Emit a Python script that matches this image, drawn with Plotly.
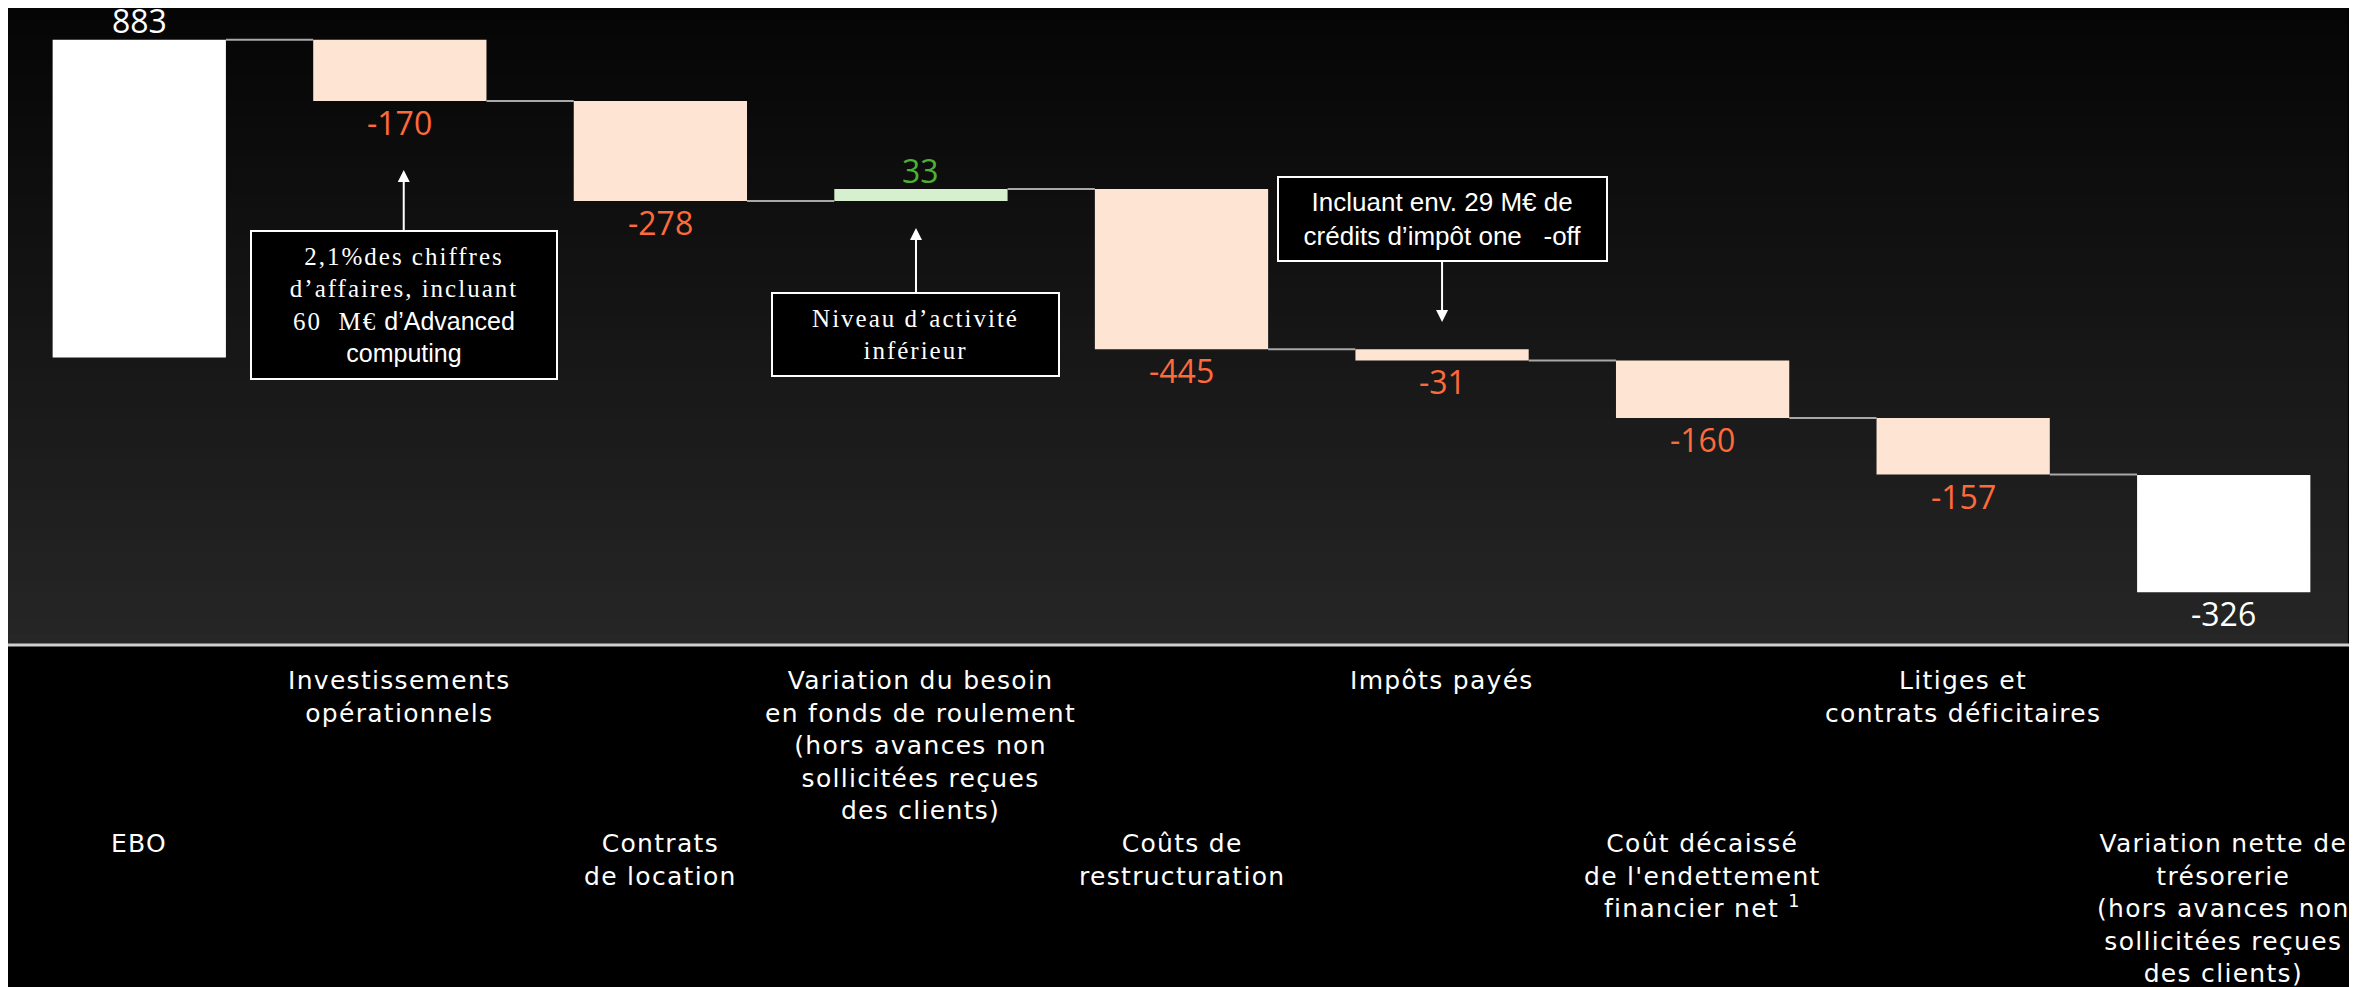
import plotly.graph_objects as go

# ---------------- data ----------------
categories = [
    "EBO",
    "Investissements|opérationnels",
    "Contrats|de location",
    "Variation du besoin|en fonds de roulement|(hors avances non|sollicitées reçues|des clients)",
    "Coûts de|restructuration",
    "Impôts payés",
    "Coût décaissé|de l'endettement|financier net <sup>1</sup>",
    "Litiges et|contrats déficitaires",
    "Variation nette de|trésorerie|(hors avances non|sollicitées reçues|des clients)",
]
values = [883, -170, -278, 33, -445, -31, -160, -157, -326]
measures = ["absolute", "relative", "relative", "relative", "relative",
            "relative", "relative", "relative", "total"]
value_labels = ["883", "-170", "-278", "33", "-445", "-31", "-160", "-157", "-326"]

note_texts = [
    "2,1%des chiffres|d’affaires, incluant|60  M€| d’Advanced|computing",
    "Niveau d’activité|inférieur",
    "Incluant env. 29 M€ de|crédits d’impôt one\u00a0\u00a0\u00a0-off",
]

# ---------------- styles ----------------
WHITE = "#FFFFFF"
PEACH = "#FDE4D3"
LGREEN = "#D6F0CF"
ORANGE = "#FF6A3A"
GREEN = "#4DB035"
CAT_FONT = "DejaVu Sans"
VAL_FONT = "Open Sans"
BAR_W = 0.665

# ---------------- waterfall geometry ----------------
bases, lengths, bar_colors, txt_colors, levels = [], [], [], [], []
running = 0
for v, m in zip(values, measures):
    if m == "absolute":
        bases.append(0); lengths.append(v); running = v
        bar_colors.append(WHITE); txt_colors.append(WHITE)
    elif m == "relative":
        bases.append(running); lengths.append(v); running += v
        bar_colors.append(PEACH if v < 0 else LGREEN)
        txt_colors.append(ORANGE if v < 0 else GREEN)
    else:  # total bar hangs from the running level
        bases.append(v); lengths.append(v); running = v
        bar_colors.append(WHITE); txt_colors.append(WHITE)
    levels.append(running)

xs = list(range(len(values)))

fig = go.Figure()

# connectors
cx, cy = [], []
for i in range(len(values) - 1):
    cx += [i + BAR_W / 2, i + 1 - BAR_W / 2, None]
    cy += [levels[i], levels[i], None]
fig.add_trace(go.Scatter(x=cx, y=cy, mode="lines",
                         line=dict(color="#A8A8A8", width=2),
                         hoverinfo="skip", showlegend=False))

fig.add_trace(go.Bar(
    x=xs, y=lengths, base=bases, width=BAR_W,
    marker=dict(color=bar_colors, line=dict(width=0)),
    cliponaxis=False, showlegend=False, hoverinfo="skip",
))

shapes = []
# gradient background panel
N = 48
for k in range(N):
    y0 = k / N
    y1 = (k + 1) / N
    t = 1 - (y0 + y1) / 2
    c = int(round(5 + t * 33))
    shapes.append(dict(type="rect", xref="paper", yref="paper",
                       x0=-0.0009, x1=0.9974, y0=y0, y1=y1 + 0.002,
                       fillcolor=f"rgb({c},{c},{c})", line=dict(width=0),
                       layer="below"))
# baseline
shapes.append(dict(type="line", xref="paper", yref="paper",
                   x0=-0.0004, x1=0.9996, y0=0.0016, y1=0.0016,
                   line=dict(color="#D0D0D0", width=3)))

annotations = []

# value labels at the end of each bar
for i, (b, ln, lab, col) in enumerate(zip(bases, lengths, value_labels, txt_colors)):
    up = ln > 0
    annotations.append(dict(
        x=i, y=b + ln, xref="x", yref="y", xanchor="center", yanchor="middle",
        yshift=19.5 if up else -21, text=lab, showarrow=False,
        height=28, valign="middle", borderpad=0,
        font=dict(family=VAL_FONT, size=32, color=col)))

# category labels, staggered rows
LS = "letter-spacing:1.3px"
for i, cat in enumerate(categories):
    html = "<br>".join(f'<span style="{LS}">{ln}</span>' for ln in cat.split("|"))
    annotations.append(dict(
        x=i, xref="x", y=0, yref="paper", yanchor="top", xanchor="center",
        yshift=-17.5 if i % 2 == 1 else -180.5,
        text=html, showarrow=False, align="center",
        font=dict(family=CAT_FONT, size=25, color="white")))

SERIF = "font-family:Liberation Serif;letter-spacing:2px"
SANS = "font-family:Liberation Sans"


def serif(s):
    return f'<span style="{SERIF}">{s}</span>'


def sans(s):
    return f'<span style="{SANS}">{s}</span>'


p1 = note_texts[0].split("|")
p2 = note_texts[1].split("|")
p3 = note_texts[2].split("|")
box_html = [
    serif(p1[0]) + "<br>" + serif(p1[1]) + "<br>" + serif(p1[2]) + sans(p1[3]) + "<br>" + sans(p1[4]),
    serif(p2[0]) + "<br>" + serif(p2[1]),
    sans(p3[0]) + "<br>" + sans(p3[1]),
]
# (arrow x, head y, box-center y, width, height, font size)
box_geom = [
    (1.015, 521, 146, 304, 146, 25),
    (2.981, 360, 64, 285, 81, 25),
    (5.0, 99, 385, 327, 82, 26),
]
for html, (x, yhead, yc, w, h, fs) in zip(box_html, box_geom):
    annotations.append(dict(
        x=x, y=yhead, ax=x, ay=yc, xref="x", yref="y", axref="x", ayref="y",
        text=html, showarrow=True, arrowhead=2, arrowsize=1.2, arrowwidth=2,
        arrowcolor="white", standoff=0,
        width=w, height=h, align="center", valign="middle",
        bgcolor="black", bordercolor="white", borderwidth=2, borderpad=0,
        font=dict(family="Liberation Sans", size=fs, color="white")))

fig.update_layout(
    width=2349, height=979,
    margin=dict(l=1, r=3, t=0, b=341),
    paper_bgcolor="black", plot_bgcolor="rgba(0,0,0,0)",
    showlegend=False,
    xaxis=dict(range=[-0.5, 8.5], visible=False, fixedrange=True),
    yaxis=dict(range=[-801, 971], visible=False, fixedrange=True),
    shapes=shapes, annotations=annotations,
    font=dict(family=CAT_FONT, color="white"),
)

fig.write_html("out.html")
